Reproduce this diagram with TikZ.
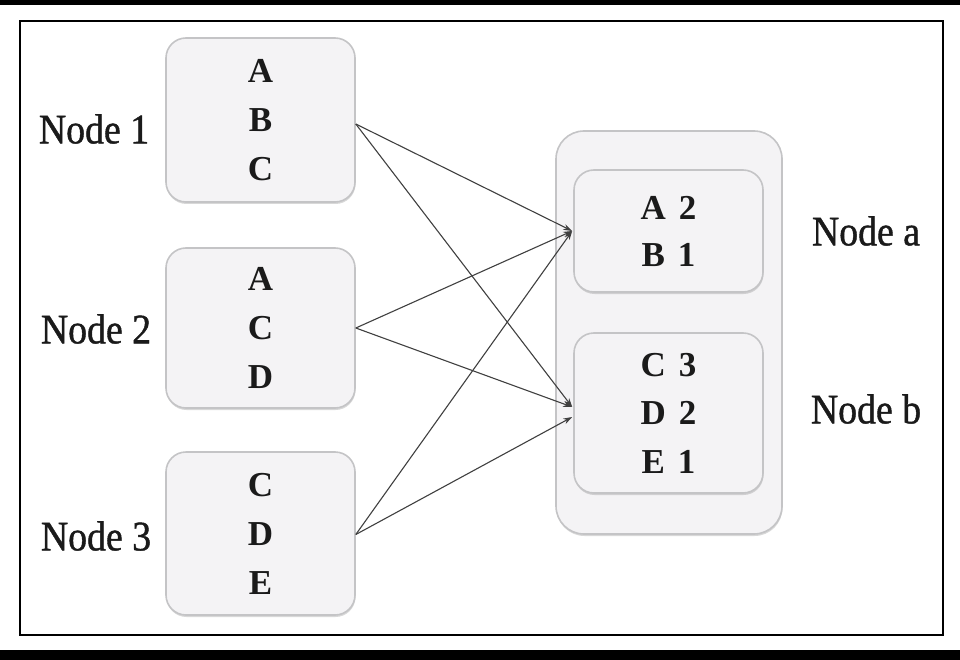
\documentclass[tikz,border=0pt]{standalone}
\usepackage{fontspec}
\setmainfont{Liberation Serif}
\newfontfamily\lblfont{Liberation Serif}[FakeStretch=0.9, FakeBold=1]
\newfontfamily\boxfont{Liberation Serif}[UprightFont=*-Bold, WordSpace=1.5]
\usetikzlibrary{arrows.meta,shadows}
\definecolor{boxfill}{HTML}{F4F3F5}
\definecolor{boxline}{HTML}{C4C4C6}
\definecolor{edgec}{HTML}{404040}
\definecolor{txt}{HTML}{1A1A1A}
\tikzset{
  rbox/.style={draw=boxline, line width=1.6pt, fill=boxfill, rounded corners=20pt,
    drop shadow={shadow xshift=0.5pt, shadow yshift=-2pt, opacity=0.25, fill=black!60},
    align=center, inner sep=0pt, text=txt, font=\boxfont\fontsize{35}{49}\selectfont},
  lbl/.style={font=\lblfont\fontsize{42}{44}\selectfont, inner sep=0pt, text=txt},
  conn/.style={draw=edgec, line width=1.1pt, -{Stealth[length=9pt,width=6pt]}}
}
\begin{document}
\begin{tikzpicture}[x=1pt,y=-1pt]
\useasboundingbox (0,0) rectangle (960,660);
\fill[black] (0,0) rectangle (960,660);
\fill[white] (0,5) rectangle (960,650);
\draw[line width=2.5pt] (20,21) rectangle (943,635);
% left boxes
\node[rbox, minimum width=189pt, minimum height=164pt] (n1) at (260.5,120) {A\\B\\C};
\node[rbox, minimum width=189pt, minimum height=160pt] (n2) at (260.5,328) {A\\C\\D};
\node[rbox, minimum width=189pt, minimum height=163pt] (n3) at (260.5,533.5) {C\\D\\E};
\node[lbl] (l1) at (94,129) {Node 1};
\node[lbl] (l2) at (96,329) {Node 2};
\node[lbl] (l3) at (96,536) {Node 3};
% right group
\node[rbox, minimum width=226pt, minimum height=403pt, rounded corners=28pt] (outer) at (669,332.5) {};
\node[rbox, minimum width=189pt, minimum height=122pt, font=\boxfont\fontsize{35}{47}\selectfont] (na) at (668.5,231) {A 2\\B 1};
\node[rbox, minimum width=189pt, minimum height=160pt, font=\boxfont\fontsize{35}{48.5}\selectfont] (nb) at (668.5,413) {C 3\\D 2\\E 1};
\node[lbl] (la) at (866,231) {Node a};
\node[lbl] (lb) at (866,409) {Node b};
% connectors
\coordinate (s1) at ([yshift=-4pt]n1.east);
\coordinate (s2) at (n2.east);
\coordinate (s3) at ([yshift=-1pt]n3.east);
\coordinate (ta) at ([xshift=-1pt]na.west);
\coordinate (tb1) at ([xshift=-1pt,yshift=6pt]nb.west);
\coordinate (tb2) at ([xshift=-1pt,yshift=-4pt]nb.west);
\draw[conn] (s1) -- (ta);
\draw[conn] (s1) -- (tb1);
\draw[conn] (s2) -- (ta);
\draw[conn] (s2) -- (tb1);
\draw[conn] (s3) -- (ta);
\draw[conn] (s3) -- (tb2);
\end{tikzpicture}
\end{document}
